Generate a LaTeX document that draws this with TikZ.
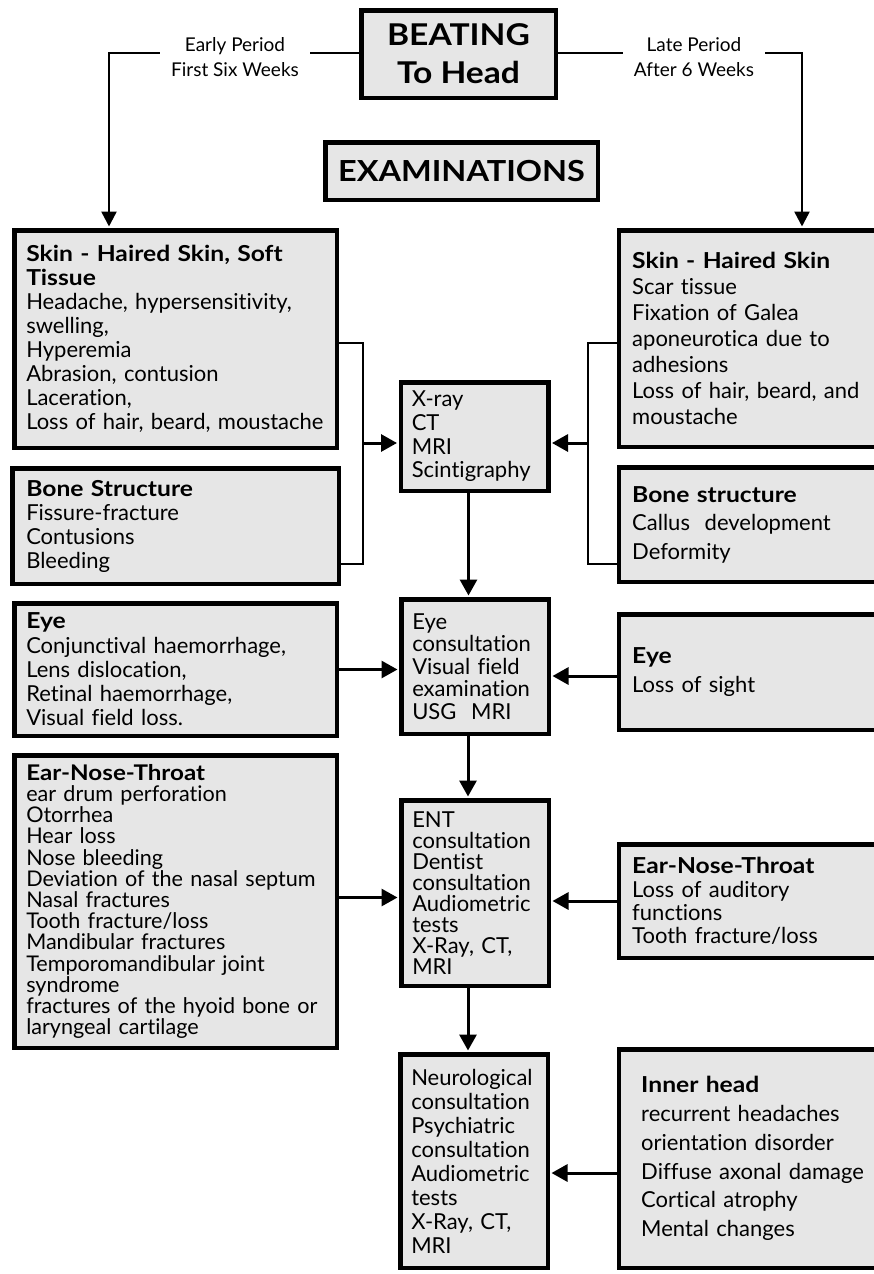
\documentclass[tikz,border=0pt]{standalone}
\usepackage{fontspec}
\setmainfont{Lato}[Ligatures={NoCommon}, BoldFeatures={FakeStretch=1.12}]
\usetikzlibrary{arrows.meta}
\definecolor{panelgray}{HTML}{E6E6E6}
\hyphenpenalty=10000
\exhyphenpenalty=10000
\begin{document}
\begin{tikzpicture}[x=1pt,y=-1pt,
  panel/.style={draw=black, line width=4.5pt, fill=panelgray, align=left,
    inner ysep=0pt, inner xsep=12pt, anchor=center},
  body/.style={font=\fontsize{22}{#1}\selectfont},
  title/.style={draw=black, line width=4.5pt, fill=panelgray, align=center,
    inner sep=0pt, font=\bfseries\fontsize{#1}{38}\selectfont},
  period/.style={font=\fontsize{19}{25}\selectfont, align=center,
    inner xsep=11pt, inner ysep=0pt},
  link/.style={line width=3pt, -{Triangle[length=16pt,width=17pt]}, shorten >=1.5pt},
  feed/.style={line width=2.5pt, -{Triangle[length=15pt,width=15pt]}, shorten >=1.5pt},
  plain/.style={line width=2.5pt},
  bracket/.style={line width=2pt},
]
\useasboundingbox (0,0) rectangle (873,1274);
\fill[white] (0,0) rectangle (873,1274);

% ---- heading and period labels ----
\node[title=30, minimum width=194.5pt, minimum height=87.5pt] (beat) at (458.5,54)
  {BEATING\\To Head};
\node[title=29, minimum width=272.5pt, minimum height=57.5pt] (exam) at (461.5,171)
  {EXAMINATIONS};
\node[period] (early) at (235,57) {Early Period\\First Six Weeks};
\node[period] (late) at (694,57) {Late Period\\After 6 Weeks};

% ---- early period (left column) ----
\node[panel, body=24, text width=298.5pt, minimum height=217.5pt] (skinL) at (175.5,339)
  {\textbf{Skin - Haired Skin, Soft}\\\textbf{Tissue}\\Headache, hypersensitivity,\\swelling,\\Hyperemia\\Abrasion, contusion\\Laceration,\\Loss of hair, beard, moustache};
\node[panel, body=24, text width=298.5pt, minimum height=115.5pt, inner xsep=14pt] (boneL) at (175.5,526)
  {\textbf{Bone Structure}\\Fissure-fracture\\Contusions\\Bleeding};
\node[panel, body=24.3, text width=298.5pt, minimum height=132.5pt] (eyeL) at (175.5,669.5)
  {\textbf{Eye}\\Conjunctival haemorrhage,\\Lens dislocation,\\Retinal haemorrhage,\\Visual field loss.};
\node[panel, font=\fontsize{21.6}{21.2}\selectfont, text width=298.5pt, minimum height=292.5pt] (entL) at (175.5,901.5)
  {\textbf{Ear-Nose-Throat}\\ear drum perforation\\Otorrhea\\Hear loss\\Nose bleeding\\Deviation of the nasal septum\\Nasal fractures\\Tooth fracture/loss\\Mandibular fractures\\Temporomandibular joint\\syndrome\\fractures of the hyoid bone or\\laryngeal cartilage};

% ---- examinations (centre column) ----
\node[panel, body=23.7, text width=125.5pt, minimum height=108.5pt, inner xsep=11pt] (xray) at (474.5,436.5)
  {X-ray\\CT\\MRI\\Scintigraphy};
\node[panel, body=22.5, text width=125.5pt, minimum height=134.5pt, inner xsep=11pt] (eyeC) at (475,666.5)
  {Eye\\consultation\\Visual field\\examination\\USG\ \ MRI};
\node[panel, body=21.1, text width=125.5pt, minimum height=185.5pt, inner xsep=11pt] (entC) at (475,893)
  {ENT\\consultation\\Dentist\\consultation\\Audiometric\\tests\\X-Ray, CT,\\MRI};
\node[panel, body=24, text width=125.5pt, minimum height=213.5pt, inner xsep=11pt] (neuro) at (474,1161)
  {Neurological\\consultation\\Psychiatric\\consultation\\Audiometric\\tests\\X-Ray, CT,\\MRI};

% ---- late period (right column) ----
\node[panel, body=26, text width=254.75pt, minimum height=216.5pt, inner xsep=13pt] (skinR) at (759.6,338.5)
  {\textbf{Skin - Haired Skin}\\Scar tissue\\Fixation of Galea\\aponeurotica due to\\adhesions\\Loss of hair, beard, and\\moustache};
\node[panel, body=28.5, text width=254.75pt, minimum height=114.5pt, inner xsep=13pt] (boneR) at (759.6,524.5)
  {\textbf{Bone structure}\\Callus\ \ development\\Deformity};
\node[panel, body=29, text width=254.75pt, minimum height=115.5pt, inner xsep=13pt] (eyeR) at (759.6,672)
  {\textbf{Eye}\\Loss of sight};
\node[panel, body=23.3, text width=254.75pt, minimum height=113.5pt, inner xsep=13pt] (entR) at (759.6,901)
  {\textbf{Ear-Nose-Throat}\\Loss of auditory\\functions\\Tooth fracture/loss};
\node[panel, body=28.8, text width=236.75pt, minimum height=218.5pt, inner xsep=22pt] (inner) at (759.6,1158.5)
  {\textbf{Inner head}\\recurrent headaches\\orientation disorder\\Diffuse axonal damage\\Cortical atrophy\\Mental changes};

% ---- connectors from the heading ----
\coordinate (eturn) at (109,53);
\coordinate (lturn) at (802,53);
\draw[plain] (beat.west |- eturn) -- (early.east |- eturn);
\draw[feed] (early.west |- eturn) -- (eturn) -- (eturn |- skinL.north);
\draw[plain] (beat.east |- lturn) -- (late.west |- lturn);
\draw[feed] (late.east |- lturn) -- (lturn) -- (lturn |- skinR.north);

% ---- brackets collecting skin and bone findings ----
\coordinate (lbt) at (363,343);
\coordinate (lbb) at (363,564);
\coordinate (lbm) at (363,443);
\draw[bracket] (skinL.east |- lbt) -- (lbt) -- (lbb) -- (boneL.east |- lbb);
\draw[link] (lbm) -- (lbm -| xray.west);
\coordinate (rbt) at (588,343);
\coordinate (rbb) at (588,564);
\coordinate (rbm) at (588,443);
\draw[bracket] (skinR.west |- rbt) -- (rbt) -- (rbb) -- (boneR.west |- rbb);
\draw[link] (rbm) -- (rbm -| xray.east);

% ---- side findings into the examinations ----
\draw[link] (eyeL.east) -- (eyeL.east -| eyeC.west);
\draw[link] ([yshift=-4pt]eyeR.west) -- ([yshift=-4pt]eyeR.west -| eyeC.east);
\draw[link] ([yshift=4pt]entL.east) -- ([yshift=4pt]entL.east -| entC.west);
\draw[link] (entR.west) -- (entR.west -| entC.east);
\draw[link] ([yshift=-14.5pt]inner.west) -- ([yshift=-14.5pt]inner.west -| neuro.east);

% ---- chain of examinations ----
\draw[link] ([xshift=-6pt]xray.south) -- ([xshift=-6pt]xray.south |- eyeC.north);
\draw[link] ([xshift=-7pt]eyeC.south) -- ([xshift=-7pt]eyeC.south |- entC.north);
\draw[link] ([xshift=-7pt]entC.south) -- ([xshift=-7pt]entC.south |- neuro.north);
\end{tikzpicture}
\end{document}
